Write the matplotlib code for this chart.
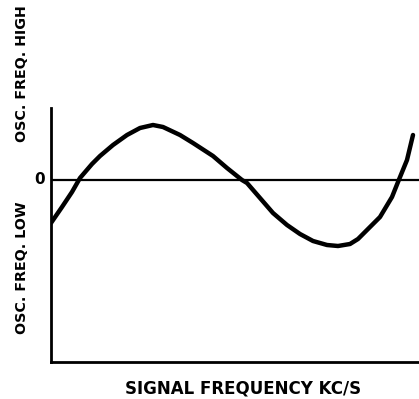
import matplotlib.pyplot as plt

# curve (x: signal frequency, arbitrary units; y: osc. freq. deviation)
sig_freq = [0, 11, 21, 29, 41, 49, 62, 76, 89, 102, 112, 129, 142, 162, 176, 191,
            196, 209, 222, 236, 249, 262, 276, 287, 299, 307, 316, 329, 341, 347,
            356, 362]
osc_dev = [-43, -27, -12, 2, 16, 24, 35, 45, 52, 55, 53, 45, 37, 24, 12, 0,
           -3, -18, -33, -45, -54, -61, -65, -66, -64, -59, -50, -37, -17, -2,
           20, 45]

W, H = 419, 399
fig = plt.figure(figsize=(W / 100, H / 100), dpi=100)
ax = fig.add_axes([51 / W, 1 - 362 / H, 368 / W, 254 / H])

ax.plot(sig_freq, osc_dev, color='black', linewidth=3.2,
        solid_capstyle='round', solid_joinstyle='round')
ax.axhline(0, color='black', linewidth=1.6)

ax.set_xlim(0, 368)
ax.set_ylim(-182, 72)
ax.spines['top'].set_visible(False)
ax.spines['right'].set_visible(False)
ax.spines['left'].set_linewidth(2)
ax.spines['bottom'].set_linewidth(2)
ax.set_xticks([])
ax.set_yticks([])

font = dict(family='DejaVu Sans', weight='bold', color='black')
fig.text(40 / W, 1 - 180 / H, '0', ha='center', va='center', fontsize=11, **font)
fig.text(243 / W, 1 - 389 / H, 'SIGNAL FREQUENCY KC/S', ha='center', va='center',
         fontsize=12, **font)
fig.text(22 / W, 1 - 74 / H, 'OSC. FREQ. HIGH', ha='center', va='center',
         rotation=90, fontsize=10.3, **font)
fig.text(22 / W, 1 - 268 / H, 'OSC. FREQ. LOW', ha='center', va='center',
         rotation=90, fontsize=10.3, **font)

fig.savefig('out.png', dpi=100)
